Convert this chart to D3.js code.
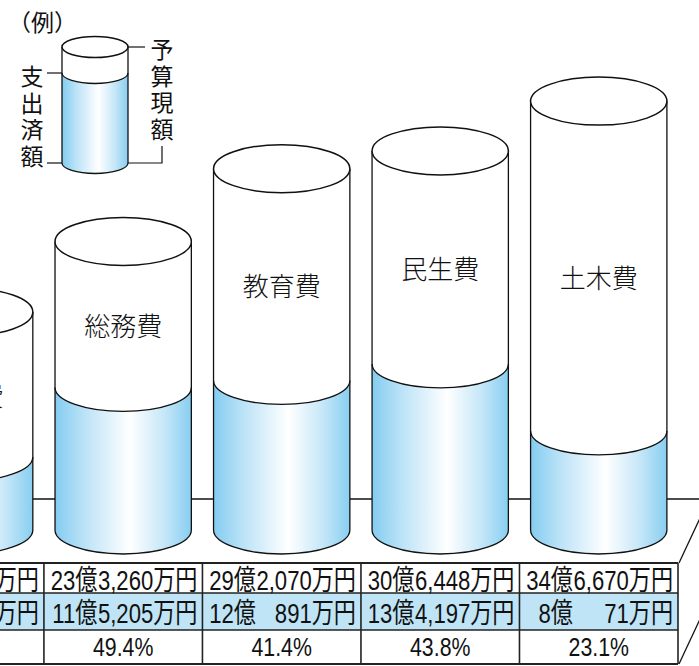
<!DOCTYPE html>
<html><head><meta charset="utf-8">
<script src="https://cdn.jsdelivr.net/npm/d3@7"></script>
<style>
html,body{margin:0;padding:0;background:#fff;}
svg{display:block;}
</style></head><body>
<svg id="c" width="699" height="666"></svg>
<script>
// ---- data (万円) ----
const categories = ["衛生費", "総務費", "教育費", "民生費", "土木費"];
const budget = [176200, 233260, 292070, 306448, 346670];   // 予算現額
const spent  = [59000, 115205, 120891, 134197, 80071];     // 支出済額
const rates  = [33.5, 49.4, 41.4, 43.8, 23.1];             // 執行率 (%)
const legendTitle = "（例）";
const legendBudget = "予算現額";
const legendSpent = "支出済額";

const svg = d3.select("#c");
const W = 699, H = 666;
const sw = 1.3;
const latin = "'Liberation Sans', 'Noto Sans CJK JP', sans-serif";
const cjk = "'Noto Sans CJK JP', sans-serif";

// gradient
const defs = svg.append("defs");
const grad = defs.append("linearGradient").attr("id", "blueGrad")
  .attr("x1", "0").attr("x2", "1").attr("y1", "0").attr("y2", "0");
[[0, "#84ccf1"], [0.22, "#bce3f7"], [0.55, "#ffffff"], [0.8, "#c6e7f8"], [1, "#88cef1"]]
  .forEach(([o, c]) => grad.append("stop").attr("offset", o).attr("stop-color", c));

// scales
const x = d3.scaleBand().domain(categories).range([-114.6, 678]).paddingInner(0).paddingOuter(0);
const y = d3.scaleLinear().domain([0, 350000]).range([530, 97]);
const rx = x.bandwidth() * 0.43, ry = 24;

// platform back edge
const platY = 499;
svg.append("line").attr("x1", 0).attr("x2", W).attr("y1", platY).attr("y2", platY)
  .attr("stroke", "#111").attr("stroke-width", sw);

function cylinder(g, cx, rx, ry, top, bt, base) {
  const L = cx - rx, R = cx + rx;
  g.append("path").attr("d", `M${L},${top}L${L},${base}A${rx},${ry} 0 0 0 ${R},${base}L${R},${top}Z`)
    .attr("fill", "#fff");
  g.append("path").attr("d", `M${L},${bt}L${L},${base}A${rx},${ry} 0 0 0 ${R},${base}L${R},${bt}A${rx},${ry} 0 0 1 ${L},${bt}Z`)
    .attr("fill", "url(#blueGrad)");
  g.append("path").attr("d", `M${L},${top}L${L},${base}A${rx},${ry} 0 0 0 ${R},${base}L${R},${top}`)
    .attr("fill", "none").attr("stroke", "#111").attr("stroke-width", sw);
  g.append("path").attr("d", `M${L},${bt}A${rx},${ry} 0 0 0 ${R},${bt}`)
    .attr("fill", "none").attr("stroke", "#111").attr("stroke-width", sw);
  g.append("ellipse").attr("cx", cx).attr("cy", top).attr("rx", rx).attr("ry", ry)
    .attr("fill", "#fff").attr("stroke", "#111").attr("stroke-width", sw + 0.2);
}

const base = y(0);
categories.forEach((c, i) => {
  const g = svg.append("g");
  const cx = x(c) + x.bandwidth() / 2;
  const top = y(budget[i]), bt = y(spent[i]);
  cylinder(g, cx, rx, ry, top, bt, base);
  g.append("text").attr("x", cx).attr("y", (top + bt) / 2 + 10)
    .attr("text-anchor", "middle").attr("dominant-baseline", "central")
    .attr("font-family", cjk).attr("font-weight", 300).attr("font-size", 26).attr("fill", "#111").text(c);
});

// ---- table ----
const rowY = [563, 593, 630, 664];
const tRight = x.range()[1];
svg.append("rect").attr("x", 0).attr("y", rowY[0]).attr("width", tRight).attr("height", rowY[3] - rowY[0])
  .attr("fill", "#fff");
svg.append("rect").attr("x", 0).attr("y", rowY[1]).attr("width", tRight).attr("height", rowY[2] - rowY[1])
  .attr("fill", "#bfe4f6");
rowY.forEach((yy, i) => {
  svg.append("line").attr("x1", 0).attr("x2", tRight).attr("y1", yy).attr("y2", yy)
    .attr("stroke", "#222").attr("stroke-width", (i === 0 || i === 3) ? 2.2 : 1.4);
});
categories.forEach(c => {
  const xr = x(c) + x.bandwidth();
  svg.append("line").attr("x1", xr).attr("x2", xr).attr("y1", rowY[0]).attr("y2", rowY[3])
    .attr("stroke", "#222").attr("stroke-width", 1.6);
});
// right side face of platform
const slope = 64 / 30;
[rowY[0], rowY[3]].forEach(yy => {
  svg.append("line").attr("x1", tRight + 1).attr("y1", yy).attr("x2", tRight + 1 + 40).attr("y2", yy - 40 * slope)
    .attr("stroke", "#111").attr("stroke-width", sw);
});

const fmt = d3.format(",");
const FS = 28, SX = 0.79;
function moneyText(xAnchor, yy, s) {
  return svg.append("text").attr("transform", `translate(${xAnchor},${yy}) scale(${SX},1)`)
    .attr("text-anchor", "end").attr("font-family", latin).attr("font-size", FS)
    .attr("fill", "#111").text(s);
}
// width of a full 4-digit 万 part, to align the 億 part
const probe = moneyText(0, -100, "0,000万円");
const manW = probe.node().getComputedTextLength() * SX;
probe.remove();
function money(v, cellL, cellR, yy) {
  const oku = Math.floor(v / 10000), man = v % 10000;
  const manEnd = cellR - 5;
  moneyText(manEnd - manW - 0.5, yy, oku + "億");
  moneyText(manEnd, yy, (man ? fmt(man) : "") + "万円");
}
categories.forEach((c, i) => {
  const L = x(c), R = x(c) + x.bandwidth();
  money(budget[i], L, R, 590);
  money(spent[i], L, R, 623);
  svg.append("text").attr("transform", `translate(${(L + R) / 2},656) scale(0.82,1)`)
    .attr("text-anchor", "middle").attr("font-family", latin).attr("font-size", 26)
    .attr("fill", "#111").text(rates[i].toFixed(1) + "%");
});

// ---- legend ----
const lg = svg.append("g");
lg.append("text").attr("x", 8).attr("y", 31).attr("font-family", cjk).attr("font-size", 23)
  .attr("fill", "#111").text(legendTitle);
cylinder(lg, 95, 33, 10.5, 47, 73, 163);
const pitch = 26.6;
legendBudget.split("").forEach((ch, i) => {
  lg.append("text").attr("x", 162).attr("y", 48 + i * pitch).attr("text-anchor", "middle")
    .attr("dominant-baseline", "central").attr("font-family", cjk).attr("font-size", 23)
    .attr("fill", "#111").text(ch);
});
legendSpent.split("").forEach((ch, i) => {
  lg.append("text").attr("x", 32).attr("y", 75 + i * pitch).attr("text-anchor", "middle")
    .attr("dominant-baseline", "central").attr("font-family", cjk).attr("font-size", 23)
    .attr("fill", "#111").text(ch);
});
const leader = (pts) => lg.append("path").attr("d", d3.line()(pts))
  .attr("fill", "none").attr("stroke", "#111").attr("stroke-width", 1.2);
leader([[128, 47], [145, 47]]);
leader([[128, 163], [162, 163], [162, 146]]);
leader([[47, 73], [62, 73]]);
leader([[47, 163], [62, 163]]);
</script>
</body></html>
